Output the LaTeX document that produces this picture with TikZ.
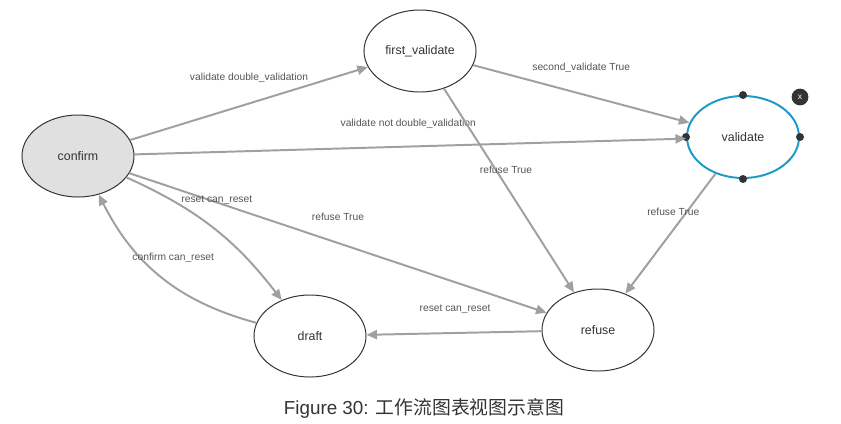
\documentclass[tikz,border=0pt]{standalone}
\usepackage{fontspec}
\setmainfont{Liberation Sans}
\newfontfamily\cjkfont{Noto Sans CJK SC}
\usetikzlibrary{arrows.meta,shapes.geometric}
\definecolor{edgegray}{HTML}{A0A0A0}
\definecolor{labelgray}{HTML}{555555}
\definecolor{nodeink}{HTML}{333333}
\definecolor{startfill}{HTML}{E0E0E0}
\definecolor{selblue}{HTML}{1E9AC8}
\tikzset{
  statenode/.style={
    ellipse, draw=nodeink, fill=#1, line width=0.7pt,
    minimum width=2.8cm, minimum height=2.05cm, inner sep=0pt,
    font=\fontsize{8.8}{10}\selectfont, text=nodeink
  },
  statenode/.default=white,
  transarrow/.style={
    -{Triangle[length=7.5pt,width=6.5pt]}, line width=1.4pt, color=edgegray
  },
  translabel/.style={
    font=\fontsize{7.3}{9}\selectfont, text=labelgray, inner sep=1pt
  },
  handledot/.style={
    circle, fill=nodeink, inner sep=0pt, minimum size=0.2cm
  },
}

\begin{document}
\begin{tikzpicture}[x=0.025cm, y=-0.025cm]
  \useasboundingbox (0,0) rectangle (841,423);
  % states
  \node[statenode=startfill] (confirm) at (78,156) {confirm};
  \node[statenode] (first) at (420,51) {first\_validate};
  \node[statenode, draw=selblue, line width=1.4pt] (validate) at (743,137) {validate};
  \node[statenode] (refuse) at (598,330) {refuse};
  \node[statenode] (draft) at (310,336) {draft};
  % selection handles
  \node[handledot] (hn) at (validate.north) {};
  \node[handledot] (hs) at (validate.south) {};
  \node[handledot] (hw) at (validate.west) {};
  \node[handledot] (he) at (validate.east) {};
  \node[circle, fill=nodeink, text=white, inner sep=0pt, minimum size=0.42cm,
    font=\fontsize{6}{7}\selectfont] (close) at (800,97) {x};
  % transitions
  \draw[transarrow] (confirm) -- node[translabel, shift={(0,-26)}] {validate double\_validation} (first);
  \draw[transarrow] (confirm) -- node[translabel, shift={(-2,-23)}] {validate not double\_validation} (validate);
  \draw[transarrow] (first) -- node[translabel, shift={(0,-26)}] {second\_validate True} (validate);
  \draw[transarrow] (first) -- node[translabel, shift={(-3,-21)}] {refuse True} (refuse);
  \draw[transarrow] (validate) -- node[translabel, shift={(3,-22)}] {refuse True} (refuse);
  \draw[transarrow] (confirm) -- node[translabel, shift={(0,-26)}] {refuse True} (refuse);
  \draw[transarrow] (confirm) to[bend left=14] node[translabel, shift={(4,-28)}] {reset can\_reset} (draft);
  \draw[transarrow] (draft) to[bend left=24] node[translabel, shift={(11,-20)}] {confirm can\_reset} (confirm);
  \draw[transarrow] (refuse) -- node[translabel, shift={(1,-24)}] {reset can\_reset} (draft);
  % caption
  \node[font=\fontsize{13.4}{15}\selectfont, text=nodeink] (caption) at (424,408)
    {Figure 30: {\cjkfont 工作流图表视图示意图}};
\end{tikzpicture}
\end{document}
